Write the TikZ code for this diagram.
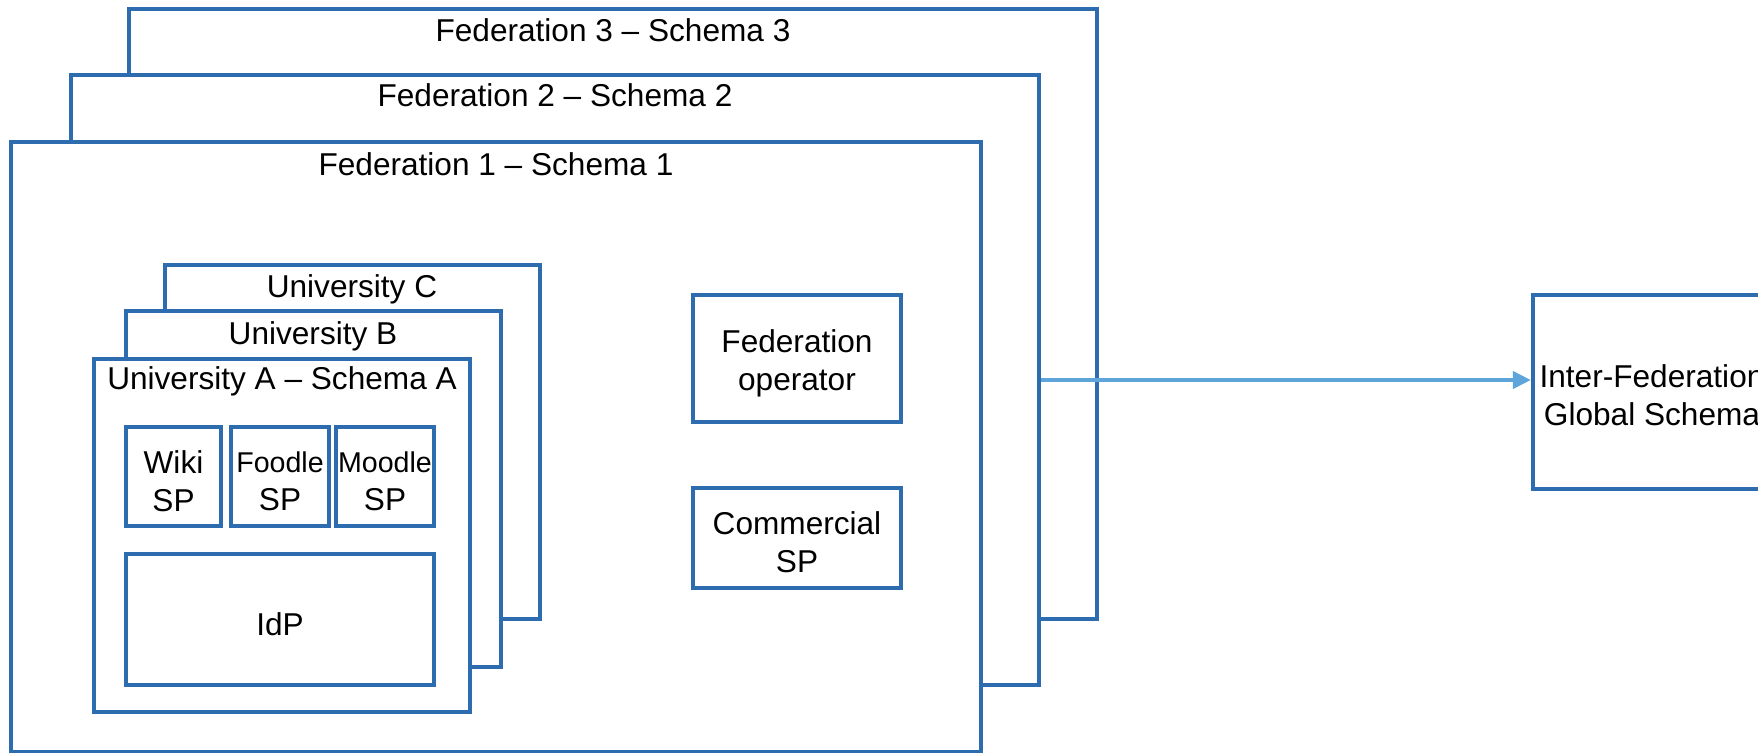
\documentclass[tikz,border=0pt]{standalone}
\usepackage{fontspec}
\setmainfont{Liberation Sans}
\usetikzlibrary{fit,arrows.meta}
\definecolor{boxblue}{RGB}{46,108,176}
\definecolor{arrowblue}{RGB}{94,165,220}
\begin{document}
\begin{tikzpicture}[x=0.5pt,y=-0.5pt,
  frame/.style={draw=boxblue, line width=2.1pt, fill=white, inner sep=0pt, fit={#1}},
  lbl/.style={font=\fontsize{15.8}{19}\selectfont, inner sep=0pt, align=center},
  smalllbl/.style={font=\fontsize{14.3}{19}\selectfont, inner sep=0pt, align=center},
  boxtxt/.style={yshift=-2.2pt},
  link/.style={draw=arrowblue, line width=2pt, -{Triangle[length=9pt,width=8.5pt]}}]
\useasboundingbox (0,0) rectangle (1758,752);
\clip (0,0) rectangle (1758,752);
\fill[white] (0,0) rectangle (1758,752);
% federations
\node[frame={(129,9)(1097,619)}] (fed3) {};
\node[lbl, anchor=base] (fed3t) at (613,41) {Federation 3 – Schema 3};
\node[frame={(71,75)(1039,685)}] (fed2) {};
\node[lbl, anchor=base] (fed2t) at (555,106) {Federation 2 – Schema 2};
\node[frame={(11,142)(981,752)}] (fed1) {};
\node[lbl, anchor=base] (fed1t) at (496,175) {Federation 1 – Schema 1};
% universities
\node[frame={(165,265)(540,619)}] (unic) {};
\node[lbl, anchor=base] (unict) at (352,297) {University C};
\node[frame={(126,311)(501,667)}] (unib) {};
\node[lbl, anchor=base] (unibt) at (313,344) {University B};
\node[frame={(94,359)(470,712)}] (unia) {};
\node[lbl, anchor=base] (uniat) at (282,389) {University A – Schema A};
% services
\node[frame={(126,427)(221,526)}] (wiki) {};
\node[lbl, boxtxt] (wikit) at (wiki.center) {Wiki\\SP};
\node[frame={(231,427)(329,526)}] (foodle) {};
\node[smalllbl, boxtxt] (foodlet) at (foodle.center) {Foodle\\{\fontsize{15.8}{19}\selectfont SP}};
\node[frame={(336,427)(434,526)}] (moodle) {};
\node[smalllbl, boxtxt] (moodlet) at (moodle.center) {Moodle\\{\fontsize{15.8}{19}\selectfont SP}};
\node[frame={(126,554)(434,685)}] (idp) {};
\node[lbl, boxtxt] (idpt) at (idp.center) {IdP};
% federation level
\node[frame={(693,295)(901,422)}] (fedop) {};
\node[lbl, boxtxt] (fedopt) at (fedop.center) {Federation\\operator};
\node[frame={(693,488)(901,588)}] (comm) {};
\node[lbl, boxtxt] (commt) at (comm.center) {Commercial\\SP};
% inter-federation
\node[frame={(1533,295)(1775,489)}] (inter) {};
\node[lbl] (intert) at (1652,395) {Inter-Federation\\Global Schema};
% arrow
\draw[link] (fed2.east) -- (fed2.east -| inter.west);
\end{tikzpicture}
\end{document}
